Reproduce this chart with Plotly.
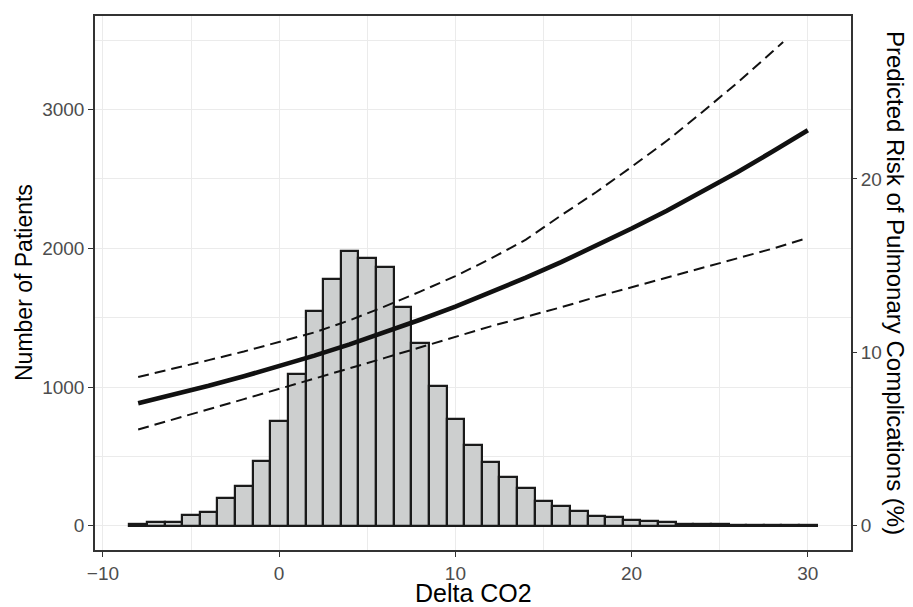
import plotly.graph_objects as go

# Histogram: bin centres (width 1) and counts
bin_centers = list(range(-8, 31))
counts = [10, 26, 25, 74, 101, 199, 288, 465, 756, 1095, 1551, 1779, 1978, 1928,
          1868, 1580, 1318, 1011, 767, 581, 460, 354, 272, 176, 142, 106, 67, 63,
          43, 36, 24, 14, 12, 12, 6, 4, 3, 2, 2]

# Predicted risk (%) curves
risk_x = [-8, -6, -4, -2, 0, 2, 4, 6, 8, 10, 12, 14, 16, 18, 20, 22, 24, 26, 28, 30]
risk_fit = [7.07, 7.56, 8.07, 8.62, 9.20, 9.81, 10.46, 11.15, 11.88, 12.64, 13.45,
            14.31, 15.20, 16.16, 17.14, 18.17, 19.26, 20.39, 21.58, 22.81]
risk_lower = [5.55, 6.15, 6.72, 7.30, 7.88, 8.48, 9.08, 9.68, 10.28, 10.90, 11.50,
              12.05, 12.60, 13.20, 13.75, 14.30, 14.85, 15.40, 15.98, 16.60]
upper_x = [-8, -6, -4, -2, 0, 2, 4, 6, 8, 10, 12, 14, 16, 18, 20, 22, 24, 26, 28, 28.6]
risk_upper = [8.58, 9.05, 9.55, 10.05, 10.60, 11.15, 11.85, 12.65, 13.50, 14.40, 15.40,
              16.50, 17.90, 19.25, 20.70, 22.20, 23.85, 25.55, 27.35, 27.90]

x_ticks = [-10, 0, 10, 20, 30]
y_ticks = [0, 1000, 2000, 3000]
y2_ticks = [0, 10, 20]
scale = 125.0  # count per % risk
y_range = [-175, 3675]

FONT = "Liberation Sans, Arial, Helvetica, sans-serif"
TICKC = "#4D4D4D"
LINEC = "#333333"
GRID = "#EBEBEB"
TICK_SIZE = 19
TITLE_SIZE = 24

fig = go.Figure()
fig.add_trace(go.Bar(
    x=bin_centers, y=counts, width=1.0,
    marker=dict(color="#CDCFCF", line=dict(color="#1A1A1A", width=2.2)),
    yaxis="y", showlegend=False, hoverinfo="x+y"))

fig.add_trace(go.Scatter(x=upper_x, y=risk_upper, mode="lines", yaxis="y2",
                         line=dict(color="#111111", width=2, dash="11px,6px"),
                         showlegend=False))
fig.add_trace(go.Scatter(x=risk_x, y=risk_lower, mode="lines", yaxis="y2",
                         line=dict(color="#111111", width=2, dash="11px,6px"),
                         showlegend=False))
fig.add_trace(go.Scatter(x=risk_x, y=risk_fit, mode="lines", yaxis="y2",
                         line=dict(color="#111111", width=4.6),
                         showlegend=False))

# The page body has an 8px default margin, so the figure is sized to fit the
# remaining window and its margins are offset accordingly.
fig.update_layout(
    width=905, height=599,
    margin=dict(l=87, r=62, t=8, b=57, autoexpand=False),
    paper_bgcolor="white", plot_bgcolor="white",
    font=dict(family=FONT, color="black"),
    bargap=0,
    xaxis=dict(
        range=[-10.45, 32.45], tickvals=x_ticks, ticks="outside", ticklen=5,
        tickwidth=1.3, tickcolor=LINEC, tickfont=dict(size=TICK_SIZE, color=TICKC),
        showgrid=True, gridcolor=GRID, gridwidth=1.3, automargin=False,
        minor=dict(dtick=5, tick0=0, showgrid=True, gridcolor=GRID, gridwidth=0.8, ticks=""),
        showline=True, mirror=True, linecolor=LINEC, linewidth=1.5, zeroline=False,
    ),
    yaxis=dict(
        range=y_range, tickvals=y_ticks, ticks="outside", ticklen=5,
        tickwidth=1.3, tickcolor=LINEC, tickfont=dict(size=TICK_SIZE, color=TICKC),
        showgrid=True, gridcolor=GRID, gridwidth=1.3, automargin=False,
        minor=dict(dtick=500, tick0=0, showgrid=True, gridcolor=GRID, gridwidth=0.8, ticks=""),
        showline=True, mirror=True, linecolor=LINEC, linewidth=1.5, zeroline=False,
    ),
    yaxis2=dict(
        overlaying="y", side="right", automargin=False,
        range=[y_range[0] / scale, y_range[1] / scale], tickvals=y2_ticks,
        ticks="outside", ticklen=5, tickwidth=1.3, tickcolor=LINEC,
        tickfont=dict(size=TICK_SIZE, color=TICKC), showgrid=False, zeroline=False,
        showline=False,
    ),
    annotations=[
        dict(text="Delta CO2", xref="paper", yref="paper", x=0.5, y=0,
             xanchor="center", yanchor="bottom", yshift=-59, showarrow=False,
             font=dict(size=25, color="black")),
        dict(text="Number of Patients", xref="paper", yref="paper", x=0, y=0.5,
             xanchor="center", yanchor="middle", xshift=-71, textangle=-90,
             showarrow=False, font=dict(size=23, color="black")),
        dict(text="Predicted Risk of Pulmonary Complications (%)",
             xref="paper", yref="paper", x=1, y=0.5, xanchor="center", yanchor="middle",
             xshift=45, textangle=90, showarrow=False,
             font=dict(size=TITLE_SIZE, color="black")),
    ],
)

fig.write_html("out.html")
